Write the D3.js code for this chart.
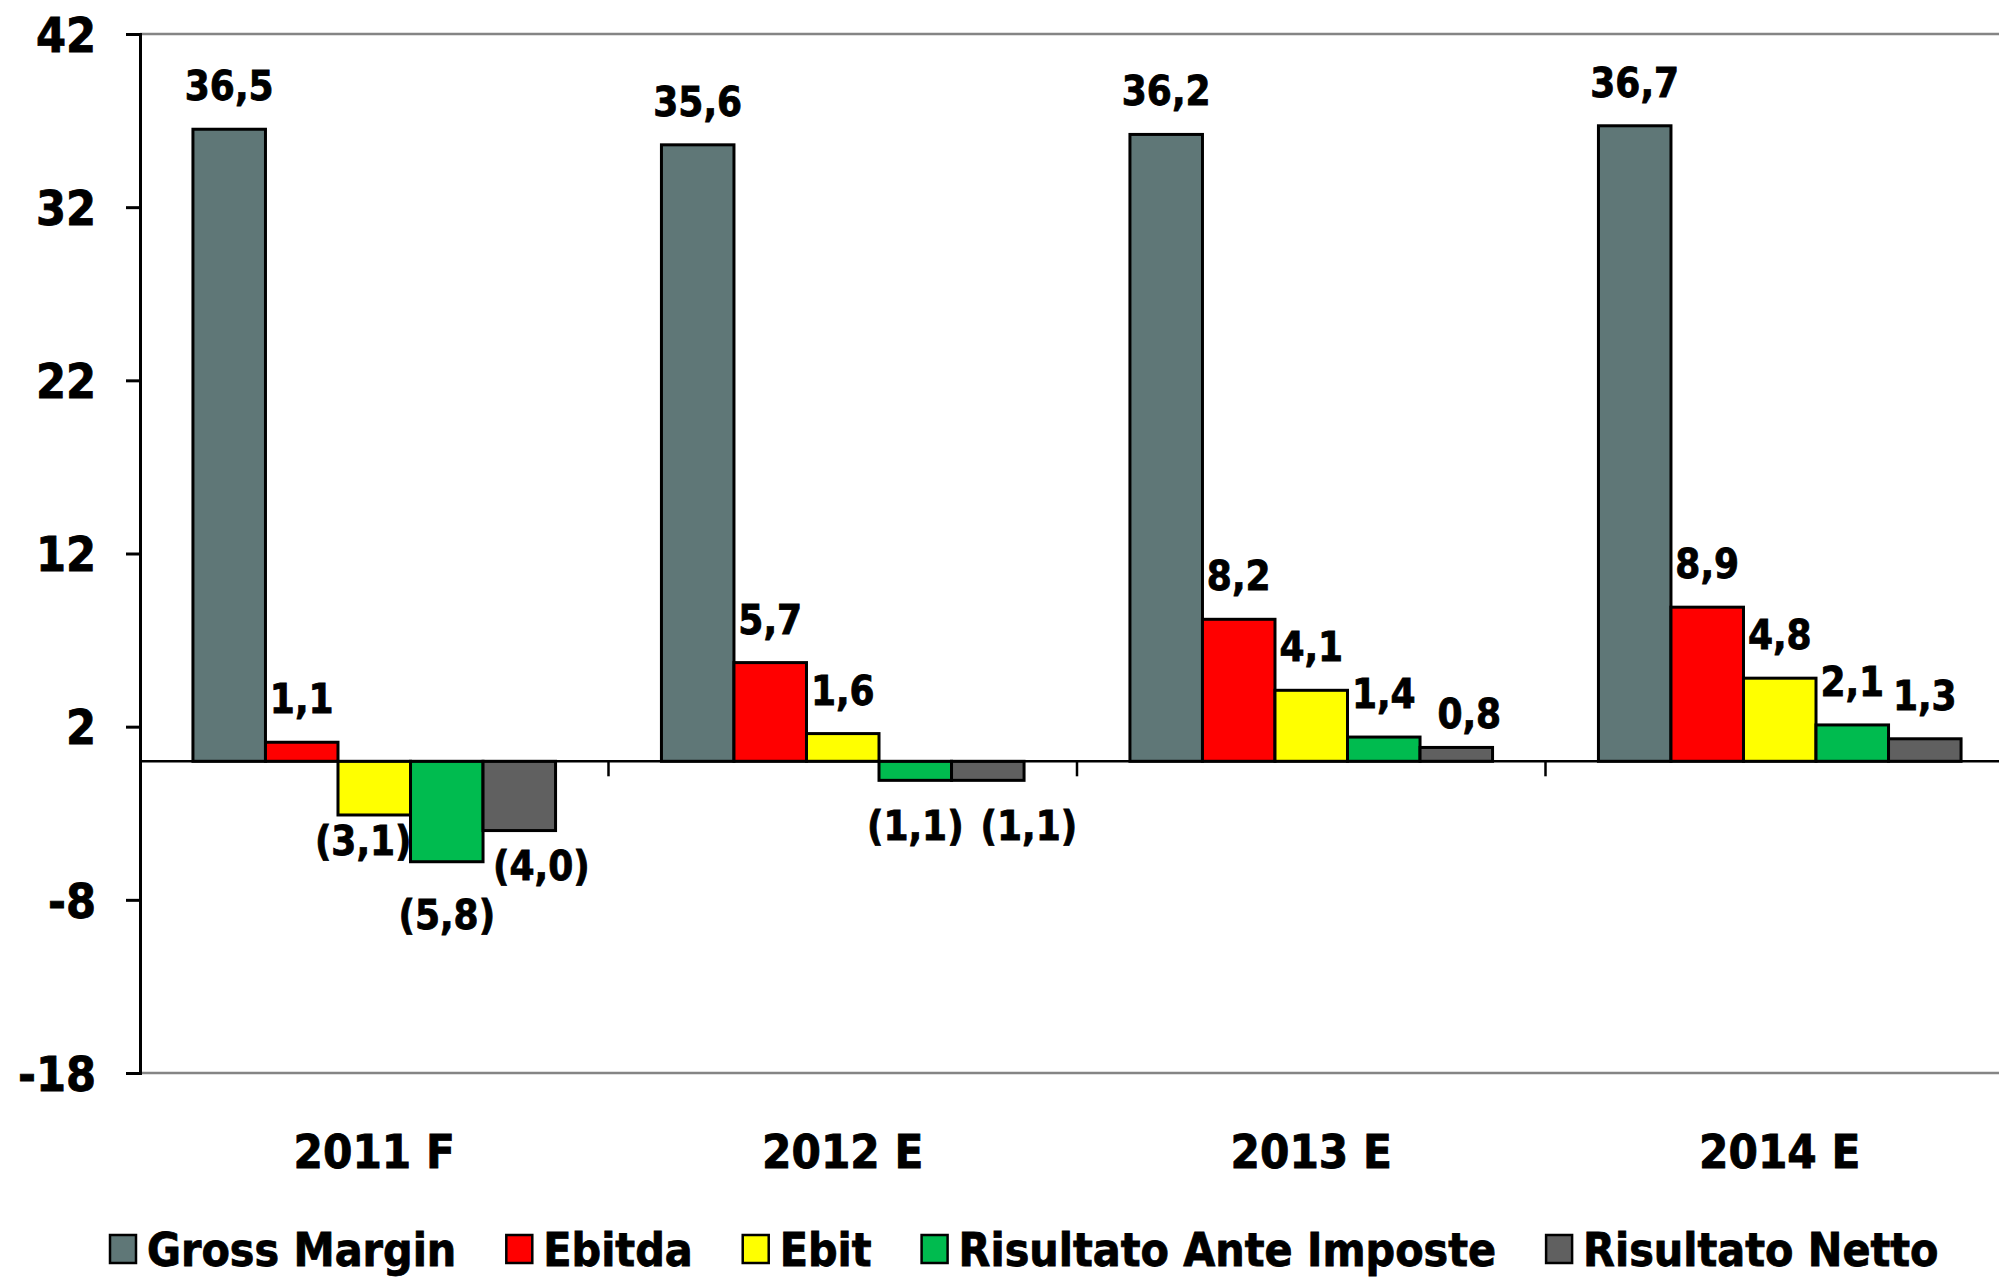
<!DOCTYPE html>
<html>
<head>
<meta charset="utf-8">
<script src="https://cdn.jsdelivr.net/npm/d3@7"></script>
<style>
  body { margin: 0; background: #fff; overflow: hidden; }
  svg { display: block; }
  text { font-family: "DejaVu Sans Condensed", "DejaVu Sans", sans-serif; font-weight: bold; font-stretch: condensed; fill: #000; stroke: #000; stroke-width: 0.8px; }
</style>
</head>
<body>
<div id="chart"></div>
<script>
// Data
const years = ["2011 F", "2012 E", "2013 E", "2014 E"];
const series = ["Gross Margin", "Ebitda", "Ebit", "Risultato Ante Imposte", "Risultato Netto"];
const grossMargin = [36.5, 35.6, 36.2, 36.7];
const ebitda = [1.1, 5.7, 8.2, 8.9];
const ebit = [-3.1, 1.6, 4.1, 4.8];
const risultatoAnteImposte = [-5.8, -1.1, 1.4, 2.1];
const risultatoNetto = [-4.0, -1.1, 0.8, 1.3];
const yTicks = [-18, -8, 2, 12, 22, 32, 42];

const colors = ["#5f7777", "#ff0000", "#ffff00", "#00bb4f", "#606060"];

// hand-placed labels in the original (dx, dy in px) keyed by "series-year"
const labelNudge = {
    "2-0": [-11, 0],
    "3-0": [0, 27],
    "4-0": [22, 9],
    "3-1": [0, 20],
    "4-1": [41, 20],
    "4-2": [13, 10]
};

const values = [grossMargin, ebitda, ebit, risultatoAnteImposte, risultatoNetto];
const data = [];
years.forEach((yr, j) => {
    series.forEach((s, i) => {
        data.push({ year: yr, series: s, si: i, yi: j, value: values[i][j] });
    });
});

const W = 1999, H = 1278;
const plotLeft = 140, plotRight = 2014, plotTop = 34, plotBottom = 1073;

const svg = d3.select("#chart").append("svg")
    .attr("width", W)
    .attr("height", H);

const x = d3.scaleBand()
    .domain(years)
    .range([plotLeft, plotRight]);

const xInner = d3.scaleBand()
    .domain(series)
    .range([0, x.bandwidth()])
    .paddingInner(0)
    .paddingOuter(0.73);

const y = d3.scaleLinear()
    .domain([-18, 42])
    .range([plotBottom, plotTop]);

const fmt = v => {
    const s = Math.abs(v).toFixed(1).replace(".", ",");
    return v < 0 ? `(${s})` : s;
};

// frame lines (top and bottom grey)
svg.append("line")
    .attr("x1", plotLeft).attr("x2", W)
    .attr("y1", y(42)).attr("y2", y(42))
    .attr("stroke", "#858585").attr("stroke-width", 2.5);
svg.append("line")
    .attr("x1", plotLeft).attr("x2", W)
    .attr("y1", y(-18)).attr("y2", y(-18))
    .attr("stroke", "#858585").attr("stroke-width", 2.5);

// y axis
const yAxis = svg.append("g")
    .attr("transform", `translate(${plotLeft},0)`)
    .call(d3.axisLeft(y).tickValues(yTicks).tickSize(14).tickPadding(30).tickFormat(d => String(d)));
yAxis.attr("font-family", null).attr("font-size", null);
yAxis.select(".domain").attr("stroke", "#000").attr("stroke-width", 3);
yAxis.selectAll(".tick line").attr("stroke", "#000").attr("stroke-width", 3);
yAxis.selectAll(".tick text")
    .style("font-size", "48px")
    .attr("dy", "0.36em");

// bars
svg.append("g")
    .selectAll("rect")
    .data(data)
    .join("rect")
    .attr("x", d => x(d.year) + xInner(d.series))
    .attr("y", d => y(Math.max(0, d.value)))
    .attr("width", xInner.bandwidth())
    .attr("height", d => Math.abs(y(d.value) - y(0)))
    .attr("fill", d => colors[d.si])
    .attr("stroke", "#000")
    .attr("stroke-width", 3);

// zero line with category ticks
svg.append("line")
    .attr("x1", plotLeft).attr("x2", W)
    .attr("y1", y(0)).attr("y2", y(0))
    .attr("stroke", "#000").attr("stroke-width", 2.5);

svg.append("g")
    .selectAll("line")
    .data(years.slice(1))
    .join("line")
    .attr("x1", d => x(d)).attr("x2", d => x(d))
    .attr("y1", y(0)).attr("y2", y(0) + 15)
    .attr("stroke", "#000").attr("stroke-width", 2.5);

// category labels
svg.append("g")
    .selectAll("text")
    .data(years)
    .join("text")
    .attr("x", d => x(d) + x.bandwidth() / 2)
    .attr("y", 1168)
    .attr("text-anchor", "middle")
    .style("font-size", "47px")
    .text(d => d);

// value labels
svg.append("g")
    .selectAll("text")
    .data(data)
    .join("text")
    .attr("x", d => {
        const n = labelNudge[`${d.si}-${d.yi}`] || [0, 0];
        return x(d.year) + xInner(d.series) + xInner.bandwidth() / 2 + n[0];
    })
    .attr("y", d => {
        const n = labelNudge[`${d.si}-${d.yi}`] || [0, 0];
        return (d.value >= 0 ? y(d.value) - 29 : y(d.value) + 40) + n[1];
    })
    .attr("text-anchor", "middle")
    .style("font-size", "40px")
    .text(d => fmt(d.value));

// legend
const legend = svg.append("g").attr("class", "legend");
let lx = 110;
series.forEach((s, i) => {
    legend.append("rect")
        .attr("x", lx)
        .attr("y", 1235)
        .attr("width", 26)
        .attr("height", 28)
        .attr("fill", colors[i])
        .attr("stroke", "#000")
        .attr("stroke-width", 2.5);
    const t = legend.append("text")
        .attr("x", lx + 37)
        .attr("y", 1266)
        .style("font-size", "46px")
        .text(s);
    lx += 37 + t.node().getComputedTextLength() + 50;
});
</script>
</body>
</html>
